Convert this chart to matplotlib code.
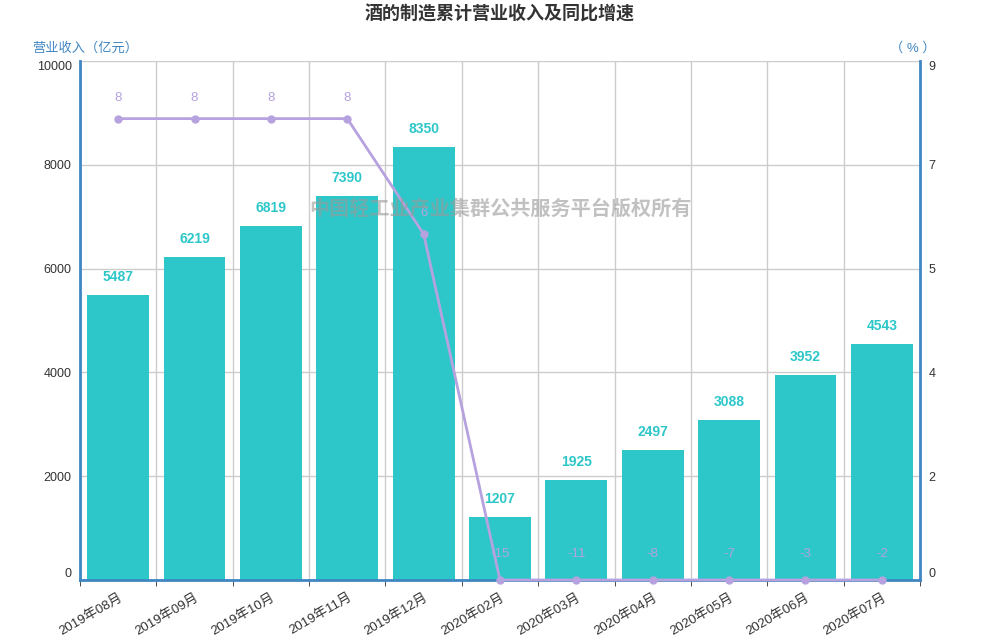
import matplotlib
matplotlib.use('Agg')
import matplotlib.pyplot as plt
import numpy as np

plt.rcParams['font.family'] = ['Liberation Sans', 'Noto Sans CJK SC', 'DejaVu Sans']

months = ['2019年08月', '2019年09月', '2019年10月', '2019年11月', '2019年12月',
          '2020年02月', '2020年03月', '2020年04月', '2020年05月', '2020年06月', '2020年07月']
revenue = [5487, 6219, 6819, 7390, 8350, 1207, 1925, 2497, 3088, 3952, 4543]
growth = [8, 8, 8, 8, 6, -15, -11, -8, -7, -3, -2]

bar_color = '#2ec7c9'
line_color = '#b6a2de'
axis_color = '#3f86c2'

fig = plt.figure(figsize=(10, 6.4), dpi=100)
ax = fig.add_axes([0.08, 0.09375, 0.84, 0.811])
x = np.arange(len(months))

ax.bar(x, revenue, width=0.81, color=bar_color, zorder=2)
for xi, v in zip(x, revenue):
    ax.annotate(str(v), (xi, v), xytext=(0, 13), textcoords='offset points',
                ha='center', va='center', color=bar_color, fontsize=10, fontweight='bold')

ax.set_xlim(-0.5, len(months) - 0.5)
ax.set_ylim(0, 10000)
ax.set_yticks(np.arange(0, 10001, 2000))
ax.set_xticks(x)
ax.set_xticklabels(months, rotation=30, ha='right', rotation_mode='anchor', fontsize=9.5, color='#333333')
ax.set_xticks(np.arange(-0.5, len(months)), minor=True)
ax.tick_params(axis='x', which='major', length=0, pad=8)
ax.tick_params(axis='x', which='minor', length=4, color='#333333', direction='out')
ax.tick_params(axis='y', length=0, labelsize=9, labelcolor='#333333', pad=6)
ax.grid(True, which='minor', axis='x', color='#cccccc', lw=1, zorder=0)
ax.grid(True, which='major', axis='y', color='#cccccc', lw=1, zorder=0)
ax.set_axisbelow(True)

for side in ['left', 'bottom']:
    ax.spines[side].set_color(axis_color)
    ax.spines[side].set_linewidth(2)
ax.spines['top'].set_visible(False)
ax.spines['right'].set_visible(False)

ax2 = ax.twinx()
ax2.set_ylim(0, 9)
rticks = np.linspace(0, 9, 6)
ax2.set_yticks(rticks)
ax2.set_yticklabels([str(int(round(t))) for t in rticks])
ax2.tick_params(axis='y', length=0, labelsize=9, labelcolor='#333333', pad=6)
ax2.spines['right'].set_color(axis_color)
ax2.spines['right'].set_linewidth(2)
for side in ['left', 'top', 'bottom']:
    ax2.spines[side].set_visible(False)

# end labels sit inside the plot range, as in the original
for a in (ax, ax2):
    labels = a.get_yticklabels()
    labels[0].set_va('bottom')
    labels[-1].set_va('top')

shown = np.clip(growth, 0, None)
ax2.plot(x, shown, color=line_color, lw=2, marker='o', markersize=5, zorder=3, clip_on=False)
for xi, v, g in zip(x, shown, growth):
    off = 15 if g >= 0 else 19
    ax2.annotate(str(g), (xi, v), xytext=(0, off), textcoords='offset points',
                 ha='center', va='center', color=line_color, fontsize=9.5)

fig.text(0.5, 0.978, '酒的制造累计营业收入及同比增速', ha='center', va='center',
         fontsize=13, fontweight='bold', color='#333333')
fig.text(0.032, 0.925, '营业收入（亿元）', ha='left', va='center', fontsize=9.5, color=axis_color)
fig.text(0.936, 0.925, '（ % ）', ha='right', va='center', fontsize=9.5, color=axis_color)
fig.text(0.5, 0.673, '中国轻工业产业集群公共服务平台版权所有', ha='center', va='center',
         fontsize=14.5, fontweight='bold', color='#999999', alpha=0.6, zorder=10)

fig.savefig('out.png', dpi=100)
